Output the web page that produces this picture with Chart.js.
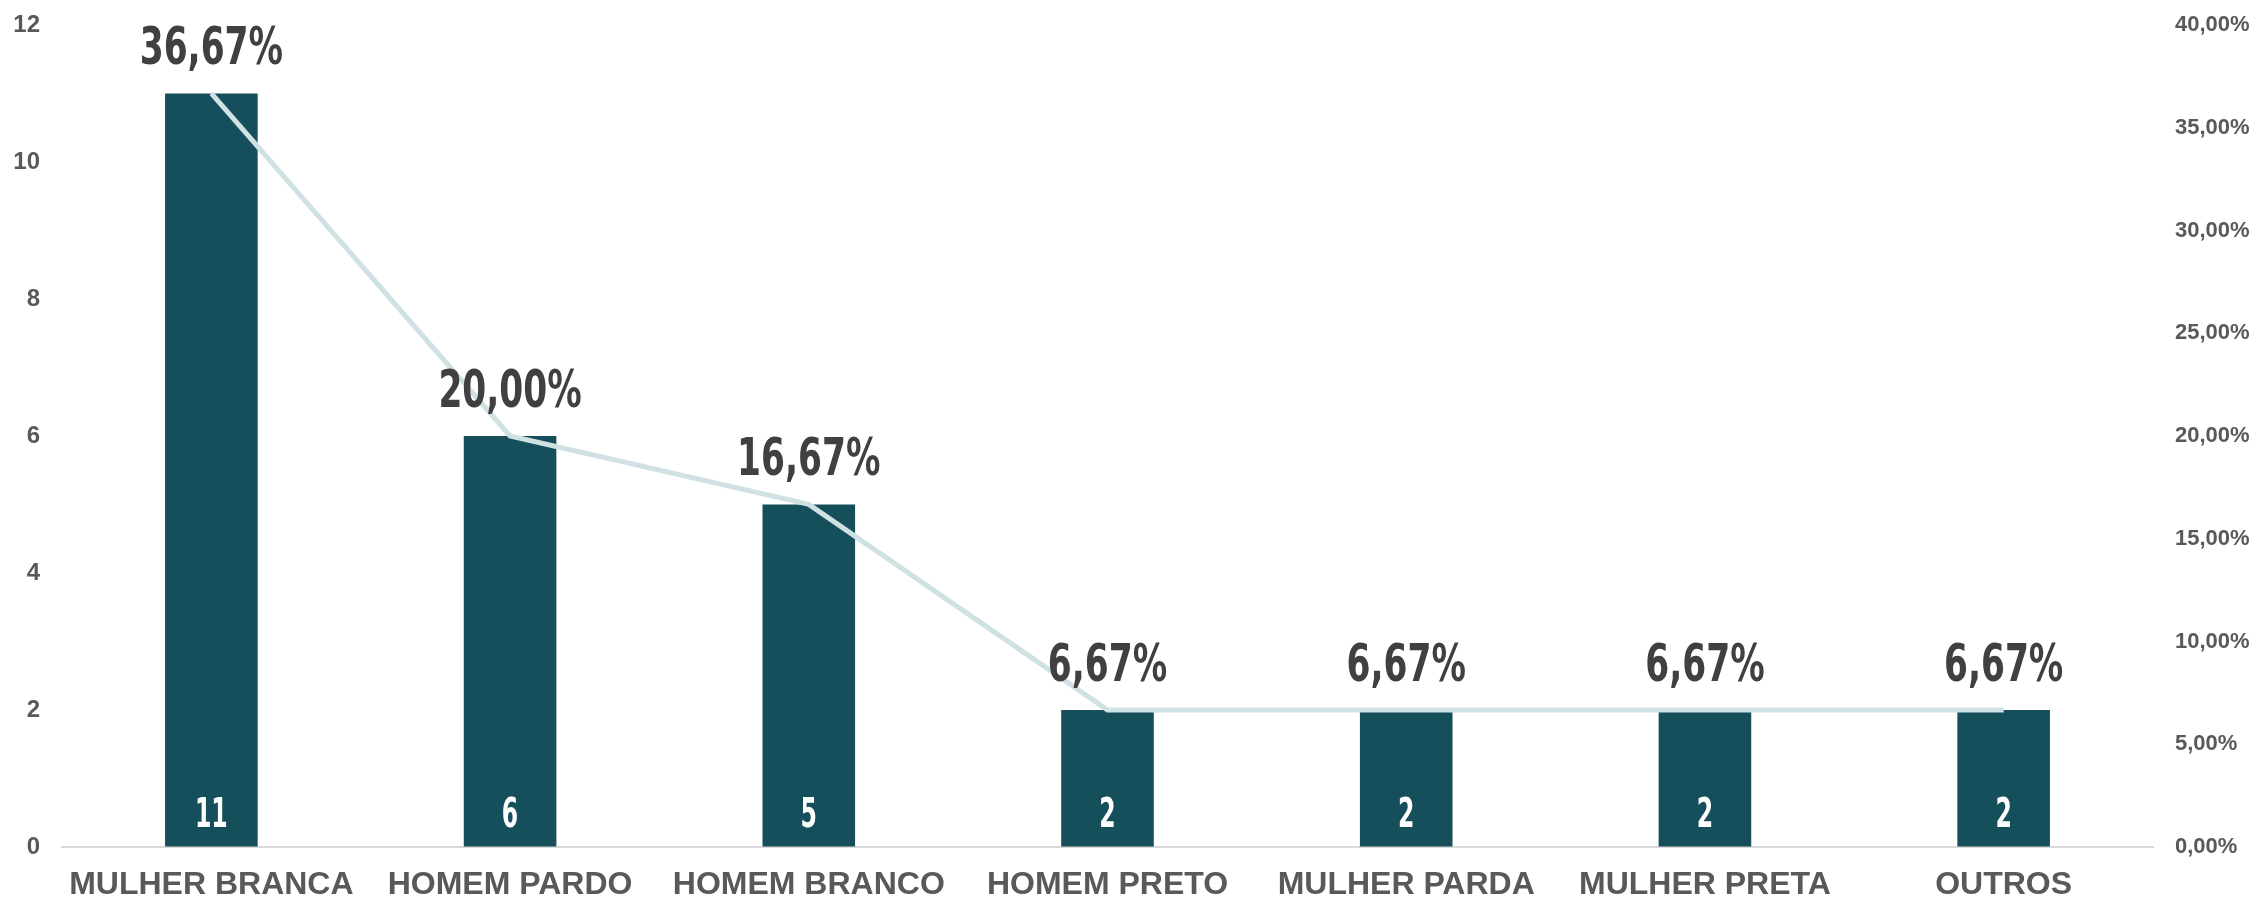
<!DOCTYPE html>
<html>
<head>
<meta charset="utf-8">
<script src="https://cdn.jsdelivr.net/npm/chart.js@4/dist/chart.umd.min.js"></script>
<style>
html,body{margin:0;padding:0;background:#fff;}
#wrap{width:2259px;height:900px;}
</style>
</head>
<body>
<div id="wrap"><canvas id="c" width="2259" height="900"></canvas></div>
<script>
const categories = ["MULHER BRANCA","HOMEM PARDO","HOMEM BRANCO","HOMEM PRETO","MULHER PARDA","MULHER PRETA","OUTROS"];
const counts = [11, 6, 5, 2, 2, 2, 2];
const percents = [36.67, 20.00, 16.67, 6.67, 6.67, 6.67, 6.67];

const fmtPct = v => v.toFixed(2).replace('.', ',') + '%';
const tickColor = '#595959';
const condFont = "'DejaVu Sans Condensed', 'DejaVu Sans', sans-serif";

function narrowText(ctx, text, x, y, sx) {
  ctx.save();
  ctx.translate(x, y);
  ctx.scale(sx, 1);
  ctx.fillText(text, 0, 0);
  ctx.restore();
}

const labelPlugin = {
  id: 'labels',
  afterDatasetsDraw(chart) {
    const ctx = chart.ctx;
    ctx.save();
    ctx.textAlign = 'center';
    ctx.textBaseline = 'alphabetic';
    const barMeta = chart.getDatasetMeta(0);
    ctx.fillStyle = '#ffffff';
    ctx.font = "bold 41px " + condFont;
    barMeta.data.forEach((el, i) => {
      narrowText(ctx, String(counts[i]), el.x, chart.chartArea.bottom - 20, 0.64);
    });
    const lineMeta = chart.getDatasetMeta(1);
    ctx.fillStyle = '#404040';
    ctx.font = "bold 51px " + condFont;
    lineMeta.data.forEach((el, i) => {
      narrowText(ctx, fmtPct(percents[i]), el.x, el.y - 29, 0.75);
    });
    ctx.restore();
  }
};

new Chart(document.getElementById('c'), {
  data: {
    labels: categories,
    datasets: [
      {
        type: 'bar',
        data: counts,
        backgroundColor: '#164f5c',
        barPercentage: 0.31,
        categoryPercentage: 1.0,
        yAxisID: 'y',
        order: 2
      },
      {
        type: 'line',
        data: percents,
        borderColor: '#d0e1e4',
        borderWidth: 5,
        pointRadius: 0,
        tension: 0,
        yAxisID: 'y1',
        order: 1
      }
    ]
  },
  options: {
    responsive: false,
    animation: false,
    devicePixelRatio: 1,
    layout: { padding: { top: 25, left: 0, right: 0, bottom: 0 } },
    plugins: { legend: { display: false }, tooltip: { enabled: false } },
    scales: {
      x: {
        grid: { display: false, drawTicks: false },
        border: { display: true, color: '#d9d9d9', width: 2 },
        ticks: {
          color: tickColor,
          padding: 19,
          font: { family: "'Liberation Sans', Arial, sans-serif", size: 32, weight: 'bold' },
          maxRotation: 0
        },
        afterFit(s) { s.height = 53; }
      },
      y: {
        position: 'left',
        min: 0, max: 12,
        ticks: {
          stepSize: 2,
          color: tickColor,
          padding: 0,
          font: { family: "'Liberation Sans', Arial, sans-serif", size: 24, weight: 'bold' }
        },
        grid: { drawOnChartArea: false, drawTicks: true, tickLength: 22, tickColor: 'rgba(0,0,0,0)' },
        border: { display: false },
        afterFit(s) { s.width = 62; }
      },
      y1: {
        position: 'right',
        min: 0, max: 40,
        ticks: {
          stepSize: 5,
          color: tickColor,
          padding: 0,
          callback: v => fmtPct(v),
          font: { family: "'Liberation Sans', Arial, sans-serif", size: 22, weight: 'bold' }
        },
        grid: { drawOnChartArea: false, drawTicks: true, tickLength: 22, tickColor: 'rgba(0,0,0,0)' },
        border: { display: false },
        afterFit(s) { s.width = 106; }
      }
    }
  },
  plugins: [labelPlugin]
});
</script>
</body>
</html>
